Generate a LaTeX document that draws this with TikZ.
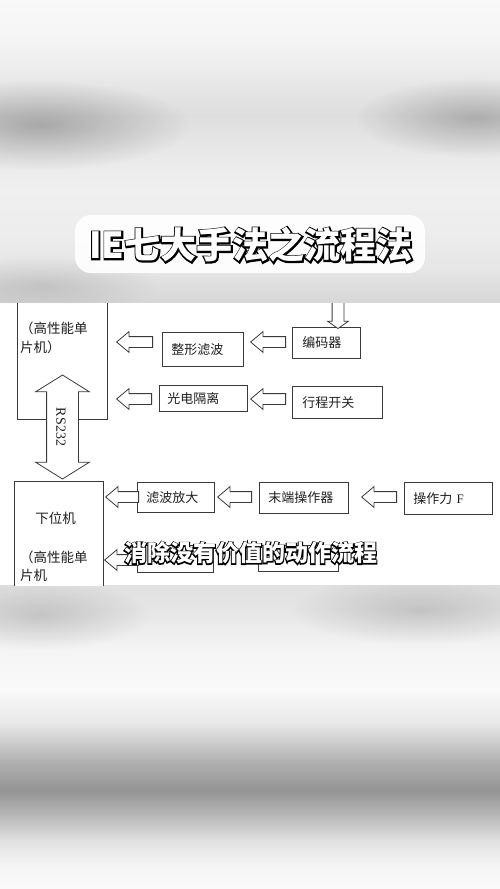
\documentclass[tikz,border=0pt]{standalone}
\usepackage{fontspec}
\setmainfont{Liberation Serif}
\newfontfamily\cjk{Noto Sans CJK SC}
\newfontfamily\cjkout{Noto Sans CJK SC}[FakeBold=8, BoldFeatures={FakeBold=8}]
\newfontfamily\cjksubout{Noto Sans CJK SC}[FakeBold=9, BoldFeatures={FakeBold=9}]
\usetikzlibrary{shapes.arrows,fadings}
\definecolor{ln}{HTML}{3A3A3A}
\definecolor{tx}{HTML}{202020}
\tikzfading[name=blobfade, inner color=transparent!0, outer color=transparent!100]
\newcommand\wbk[1]{\special{pdf:bcolor [1] [0]}#1\special{pdf:ecolor}}
\begin{document}
\begin{tikzpicture}[x=1pt,y=-1pt,
  blk/.style={draw=ln, line width=0.8pt, fill=white, inner xsep=9pt, inner ysep=0pt,
    align=left, anchor=north west, font=\cjk\fontsize{13}{16}\selectfont, text=tx},
  larrow/.style={single arrow, draw=ln, line width=0.8pt, fill=white, inner xsep=0pt,
    inner ysep=5pt, single arrow head extend=5pt, single arrow tip angle=80,
    rotate=180, anchor=tip},
  lbl/.style={font=\cjk\fontsize{13.5}{19}\selectfont, text=tx, align=left, inner sep=0pt},
  blob/.style={fill=black, path fading=blobfade}]
\useasboundingbox (0,0) rectangle (500,889);
% ---------- blurred background, top ----------
\shade[top color=black!2.5, bottom color=black!4] (0,0) rectangle (500,40.5);
\shade[top color=black!4, bottom color=black!9] (0,40) rectangle (500,80.5);
\shade[top color=black!9, bottom color=black!13] (0,80) rectangle (500,115.5);
\shade[top color=black!13, bottom color=black!9] (0,115) rectangle (500,150.5);
\shade[top color=black!9, bottom color=black!6] (0,150) rectangle (500,190.5);
\shade[top color=black!6, bottom color=black!7] (0,190) rectangle (500,230.5);
\shade[top color=black!7, bottom color=black!10] (0,230) rectangle (500,270.5);
\shade[top color=black!10, bottom color=black!16] (0,270) rectangle (500,303.5);
\fill[blob, fill opacity=0.25] (40,125) ellipse [x radius=150pt, y radius=45pt];
\fill[blob, fill opacity=0.22] (475,118) ellipse [x radius=120pt, y radius=40pt];
\fill[blob, fill opacity=0.12] (40,285) ellipse [x radius=120pt, y radius=30pt];
% ---------- blurred background, bottom ----------
\shade[top color=black!12, bottom color=black!10] (0,585) rectangle (500,610.5);
\shade[top color=black!10, bottom color=black!4] (0,610) rectangle (500,650.5);
\shade[top color=black!4, bottom color=black!2] (0,650) rectangle (500,690.5);
\shade[top color=black!2, bottom color=black!10] (0,690) rectangle (500,725.5);
\shade[top color=black!10, bottom color=black!30] (0,725) rectangle (500,760.5);
\shade[top color=black!30, bottom color=black!42] (0,760) rectangle (500,790.5);
\shade[top color=black!42, bottom color=black!28] (0,790) rectangle (500,815.5);
\shade[top color=black!28, bottom color=black!12] (0,815) rectangle (500,840.5);
\shade[top color=black!12, bottom color=black!4] (0,840) rectangle (500,865.5);
\shade[top color=black!4, bottom color=black!2] (0,865) rectangle (500,889);
\fill[blob, fill opacity=0.15] (40,615) ellipse [x radius=110pt, y radius=35pt];
\fill[blob, fill opacity=0.15] (420,610) ellipse [x radius=130pt, y radius=35pt];
% ---------- title banner ----------
\node[fill=white, fill opacity=0.9, rounded corners=16pt, minimum width=350pt,
  minimum height=58pt, inner sep=0pt] (banner) at (250,244) {};
\node[font=\cjkout\bfseries\fontsize{36}{36}\selectfont] (titleedge) at (251,245) {\wbk{IE七大手法之流程法}};
\node[font=\cjk\bfseries\fontsize{36}{36}\selectfont, text=white] (title) at (251,245) {IE七大手法之流程法};
% ---------- diagram panel ----------
\fill[white] (0,303) rectangle (500,585);
\begin{scope}
\clip (0,303) rectangle (500,585);
% left boxes
\node[blk, minimum width=90pt, minimum height=149pt, text width=72pt] (upper) at (17,270) {};
\node[lbl, anchor=west] (uppertxt) at (20,337.5) {（高性能单\\片机）};
\node[blk, minimum width=89pt, minimum height=130pt, text width=71pt] (lower) at (14,481) {};
\node[lbl] (lowertitle) at (55.5,518) {下位机};
\node[lbl, anchor=west, font=\cjk\fontsize{13.5}{18}\selectfont] (lowertxt) at (20,566) {（高性能单\\片机};
% process boxes
\node[blk, minimum width=81pt, minimum height=34pt, text width=63pt] (shape) at (162,332) {整形滤波};
\node[blk, minimum width=68pt, minimum height=31pt, text width=48pt, inner xsep=10pt] (enc) at (292,327) {编码器};
\node[blk, minimum width=88pt, minimum height=26pt, text width=72pt, inner xsep=8pt] (iso) at (159,385) {光电隔离};
\node[blk, minimum width=90pt, minimum height=32pt, text width=70pt, inner xsep=10pt] (trav) at (292,386) {行程开关};
\node[blk, minimum width=77pt, minimum height=30pt, text width=59pt] (filt) at (137,482) {滤波放大};
\node[blk, minimum width=89pt, minimum height=31pt, text width=71pt] (endeff) at (259,482) {末端操作器};
\node[blk, minimum width=88pt, minimum height=32pt, text width=70pt] (force) at (404,482) {操作力 {\rmfamily F}};
\node[blk, minimum width=76pt, minimum height=27pt, text width=58pt] (hidA) at (137,545) {};
\node[blk, minimum width=80pt, minimum height=26pt, text width=62pt] (hidB) at (258,545) {};
% block arrows
\node[larrow, minimum height=36pt] (a1) at (116,342) {};
\node[larrow, minimum height=35pt] (a2) at (250,342) {};
\node[larrow, minimum height=35pt] (a3) at (116,399) {};
\node[larrow, minimum height=35pt] (a4) at (250,399) {};
\node[larrow, minimum height=33pt] (a5) at (105,497) {};
\node[larrow, minimum height=34pt] (a6) at (217,497) {};
\node[larrow, minimum height=35pt] (a7) at (361,497) {};
\node[larrow, minimum height=34pt] (a8) at (104,560) {};
\node[single arrow, draw=ln, line width=0.8pt, fill=white, inner xsep=0pt, inner ysep=5.5pt,
  single arrow head extend=4.5pt, single arrow tip angle=110, rotate=-90, anchor=tip,
  minimum height=40pt] (down) at (338,329) {};
\node[double arrow, draw=ln, line width=0.8pt, fill=white, inner xsep=0pt, inner ysep=15.5pt,
  double arrow head extend=11pt, double arrow tip angle=116, rotate=90,
  minimum height=104pt] (rs) at (62.5,427) {};
\node[rotate=-90, font=\fontsize{14}{14}\selectfont, text=tx, inner sep=0pt] (rstxt) at (61,427) {RS232};
\end{scope}
% ---------- subtitle ----------
\node[font=\cjksubout\bfseries\fontsize{23}{23}\selectfont] (subedge) at (250.5,553) {\wbk{消除没有价值的动作流程}};
\node[font=\cjk\bfseries\fontsize{23}{23}\selectfont, text=white] (sub) at (250.5,553) {消除没有价值的动作流程};
\end{tikzpicture}
\end{document}
